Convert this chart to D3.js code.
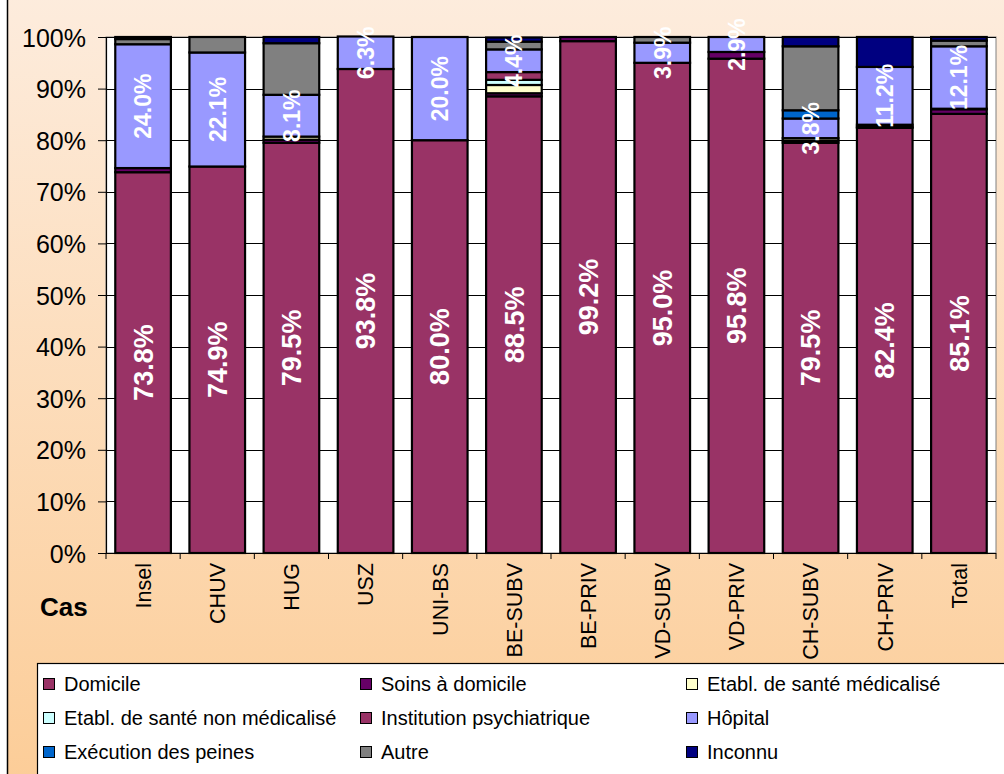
<!DOCTYPE html>
<html lang="fr">
<head>
<meta charset="UTF-8">
<script src="https://cdn.jsdelivr.net/npm/d3@7/dist/d3.min.js"></script>
<title>Cas</title>
<style>
  body { margin: 0; background: #fff; }
  text { font-family: "Liberation Sans", Arial, sans-serif; }
</style>
</head>
<body>
<script>
// categories and series
var categories = ["Insel", "CHUV", "HUG", "USZ", "UNI-BS", "BE-SUBV", "BE-PRIV", "VD-SUBV", "VD-PRIV", "CH-SUBV", "CH-PRIV", "Total"];
var seriesNames = ["Domicile", "Soins à domicile", "Etabl. de santé médicalisé", "Etabl. de santé non médicalisé",
  "Institution psychiatrique", "Hôpital", "Exécution des peines", "Autre", "Inconnu"];
var seriesColors = ["#993366", "#660066", "#ffffcc", "#ccffff", "#993366", "#9999ff", "#0066cc", "#808080", "#000080"];

// values in %
var domicile  = [73.8, 74.9, 79.5, 93.8, 80.0, 88.5, 99.2, 95.0, 95.8, 79.5, 82.4, 85.1];
var soins     = [0.8, 0, 0.6, 0, 0, 0.6, 0.8, 0, 1.3, 0.4, 0, 0.9];
var ems       = [0, 0, 0.6, 0, 0, 1.6, 0, 0, 0, 0.5, 0.2, 0.1];
var enm       = [0, 0, 0, 0, 0, 1.0, 0, 0, 0, 0, 0.4, 0];
var psy       = [0, 0, 0, 0, 0, 1.5, 0, 0, 0, 0, 0, 0];
var hopital   = [24.0, 22.1, 8.1, 6.3, 20.0, 4.4, 0, 3.9, 2.9, 3.8, 11.2, 12.1];
var execution = [0, 0, 0, 0, 0, 0, 0, 0, 0, 1.6, 0, 0];
var autre     = [1.0, 3.0, 10.0, 0, 0, 1.5, 0, 1.1, 0, 12.4, 0, 1.1];
var inconnu   = [0.4, 0, 1.2, 0, 0, 0.8, 0, 0, 0, 1.8, 5.8, 0.7];

var yTicks = [0, 10, 20, 30, 40, 50, 60, 70, 80, 90, 100];

var seriesValues = [domicile, soins, ems, enm, psy, hopital, execution, autre, inconnu];
var labelled = [0, 5]; // Domicile and Hôpital carry labels

var width = 1004, height = 774;
var plot = { left: 106, right: 996, top: 37, bottom: 553 };

var svg = d3.select("body").append("svg").attr("width", width).attr("height", height);

var grad = svg.append("defs").append("linearGradient").attr("id", "bg")
  .attr("x1", 0).attr("y1", 0).attr("x2", 0).attr("y2", 1);
grad.append("stop").attr("offset", "0%").attr("stop-color", "#fdecdd");
grad.append("stop").attr("offset", "100%").attr("stop-color", "#fccd98");

svg.append("rect").attr("x", 7.5).attr("y", -5).attr("width", width + 5).attr("height", height + 10)
  .attr("fill", "url(#bg)").attr("stroke", "#000").attr("stroke-width", 1.5);

var x = d3.scaleBand().domain(categories).range([plot.left, plot.right]).paddingInner(0.25).paddingOuter(0.125);
var y = d3.scaleLinear().domain([0, 100]).range([plot.bottom, plot.top]);

// plot area
svg.append("rect").attr("x", plot.left).attr("y", plot.top)
  .attr("width", plot.right - plot.left).attr("height", plot.bottom - plot.top)
  .attr("fill", "#fff").attr("stroke", "#808080").attr("stroke-width", 1);

// gridlines
svg.selectAll("line.grid").data(yTicks.slice(1)).enter().append("line").attr("class", "grid")
  .attr("x1", plot.left).attr("x2", plot.right)
  .attr("y1", function (d) { return Math.round(y(d)) + 0.5; })
  .attr("y2", function (d) { return Math.round(y(d)) + 0.5; })
  .attr("stroke", "#000").attr("stroke-width", 1);

// stacked data
var rows = categories.map(function (c, i) {
  var r = { cat: c };
  seriesNames.forEach(function (s, j) { r[s] = seriesValues[j][i]; });
  return r;
});
var stacked = d3.stack().keys(seriesNames)(rows);

var layers = svg.selectAll("g.layer").data(stacked).enter().append("g").attr("class", "layer")
  .attr("fill", function (d, i) { return seriesColors[i]; });

layers.selectAll("rect").data(function (d) { return d.filter(function (p) { return p[1] - p[0] > 0; }); })
  .enter().append("rect")
  .attr("x", function (d) { return x(d.data.cat); })
  .attr("width", x.bandwidth())
  .attr("y", function (d) { return y(d[1]); })
  .attr("height", function (d) { return y(d[0]) - y(d[1]); })
  .attr("stroke", "#000").attr("stroke-width", 2.2);

// segment labels
labelled.forEach(function (k) {
  var size = k === 0 ? 27 : 23;
  svg.append("g").selectAll("text")
    .data(stacked[k].filter(function (p) { return p[1] - p[0] > 0; }))
    .enter().append("text")
    .attr("transform", function (d) {
      var cx = x(d.data.cat) + x.bandwidth() / 2;
      var cy = y((d[0] + d[1]) / 2);
      return "translate(" + cx + "," + cy + ") rotate(-90)";
    })
    .attr("text-anchor", "middle").attr("dy", "0.36em")
    .attr("fill", "#fff").style("font-weight", "bold").style("font-size", size + "px")
    .text(function (d) { return (d[1] - d[0]).toFixed(1) + "%"; });
});

// y axis
var yAxis = svg.append("g").attr("transform", "translate(" + plot.left + ",0)")
  .call(d3.axisLeft(y).tickValues(yTicks).tickSize(8).tickPadding(12).tickFormat(function (d) { return d + "%"; }));
yAxis.select(".domain").attr("stroke", "#000").attr("stroke-width", 1.2);
yAxis.selectAll("line").attr("stroke", "#000");
yAxis.selectAll("text").style("font-size", "25px").attr("fill", "#000").attr("dy", "0.36em");

// x axis
var xAxisG = svg.append("g").attr("transform", "translate(0," + plot.bottom + ")");
xAxisG.append("line").attr("x1", plot.left).attr("x2", plot.right).attr("y1", 0.5).attr("y2", 0.5).attr("stroke", "#000");
var edges = categories.map(function (c) { return x(c) - x.step() * x.paddingInner() / 2; }).concat([plot.right]);
xAxisG.selectAll("line.tick").data(edges).enter().append("line").attr("class", "tick")
  .attr("x1", function (d) { return d; }).attr("x2", function (d) { return d; })
  .attr("y1", 0).attr("y2", 6).attr("stroke", "#000");
xAxisG.selectAll("text.cat").data(categories).enter().append("text").attr("class", "cat")
  .attr("transform", function (d) { return "translate(" + (x(d) + x.bandwidth() / 2) + ",10) rotate(-90)"; })
  .attr("text-anchor", "end").attr("dy", "0.36em")
  .style("font-size", "21.5px").attr("fill", "#000")
  .text(function (d) { return d; });

svg.append("text").attr("x", 40).attr("y", 616).style("font-size", "26px").style("font-weight", "bold")
  .text("Cas");

// legend
var legend = svg.append("g");
legend.append("rect").attr("x", 37.5).attr("y", 663.5).attr("width", 980).attr("height", 130)
  .attr("fill", "#fff").attr("stroke", "#000").attr("stroke-width", 1.2);
var colX = [43, 360, 686], rowY = [684, 718, 752];
var items = legend.selectAll("g.item").data(seriesNames).enter().append("g").attr("class", "item")
  .attr("transform", function (d, i) { return "translate(" + colX[i % 3] + "," + rowY[Math.floor(i / 3)] + ")"; });
items.append("rect").attr("x", 0.5).attr("y", -5.5).attr("width", 11).attr("height", 11)
  .attr("fill", function (d, i) { return seriesColors[i]; }).attr("stroke", "#000");
items.append("text").attr("x", 21).attr("dy", "0.36em").style("font-size", "20px").attr("fill", "#000")
  .text(function (d) { return d; });
</script>
</body>
</html>
